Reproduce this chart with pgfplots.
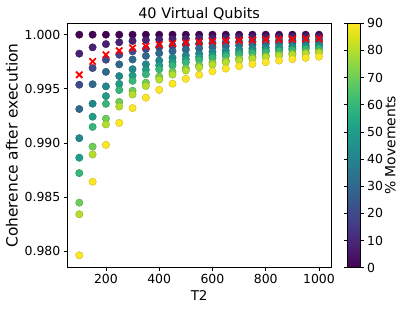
\documentclass[border=0pt]{standalone}
\usepackage{pgfplots}
\usepackage{pgfplotstable}
\pgfplotsset{compat=1.18}
\usepackage{fontspec}
\setmainfont{DejaVu Sans}

\pgfplotstableread{
T2   c1  c2      c3      c4      c5      c6      c7      c8      c9      c10     red
100  1.0 0.99825 0.99538 0.99314 0.99045 0.98865 0.98723 0.98450 0.98343 0.97965 0.99630
150  1.0 0.99883 0.99692 0.99543 0.99363 0.99243 0.99149 0.98967 0.98895 0.98643 0.99753
200  1.0 0.99913 0.99769 0.99657 0.99523 0.99433 0.99362 0.99225 0.99172 0.98983 0.99815
250  1.0 0.99930 0.99815 0.99726 0.99618 0.99546 0.99489 0.99380 0.99337 0.99186 0.99852
300  1.0 0.99942 0.99846 0.99771 0.99682 0.99622 0.99574 0.99483 0.99448 0.99322 0.99877
350  1.0 0.99950 0.99868 0.99804 0.99727 0.99676 0.99635 0.99557 0.99527 0.99419 0.99894
400  1.0 0.99956 0.99885 0.99829 0.99761 0.99716 0.99681 0.99613 0.99586 0.99491 0.99908
450  1.0 0.99961 0.99897 0.99848 0.99788 0.99748 0.99716 0.99656 0.99632 0.99548 0.99918
500  1.0 0.99965 0.99908 0.99863 0.99809 0.99773 0.99745 0.99690 0.99669 0.99593 0.99926
550  1.0 0.99968 0.99916 0.99875 0.99826 0.99794 0.99768 0.99718 0.99699 0.99630 0.99933
600  1.0 0.99971 0.99923 0.99886 0.99841 0.99811 0.99787 0.99742 0.99724 0.99661 0.99938
650  1.0 0.99973 0.99929 0.99894 0.99853 0.99825 0.99804 0.99762 0.99745 0.99687 0.99943
700  1.0 0.99975 0.99934 0.99902 0.99864 0.99838 0.99818 0.99779 0.99763 0.99709 0.99947
750  1.0 0.99977 0.99938 0.99909 0.99873 0.99849 0.99830 0.99793 0.99779 0.99729 0.99951
800  1.0 0.99978 0.99942 0.99914 0.99881 0.99858 0.99840 0.99806 0.99793 0.99746 0.99954
850  1.0 0.99979 0.99946 0.99919 0.99888 0.99867 0.99850 0.99818 0.99805 0.99761 0.99956
900  1.0 0.99981 0.99949 0.99924 0.99894 0.99874 0.99858 0.99828 0.99816 0.99774 0.99959
950  1.0 0.99982 0.99951 0.99928 0.99900 0.99881 0.99866 0.99837 0.99826 0.99786 0.99961
1000 1.0 0.99982 0.99954 0.99931 0.99904 0.99887 0.99872 0.99845 0.99834 0.99797 0.99963
}\data

\begin{document}
\begin{tikzpicture}
\path[use as bounding box] (-67.3bp,-42.3bp) rectangle (339.7bp,267.7bp);
\begin{axis}[
  scale only axis,
  width=263.7bp, height=244.4bp,
  at={(0,0)}, anchor=south west,
  xmin=55, xmax=1045,
  ymin=0.97850, ymax=1.00105,
  xtick={200,400,600,800,1000},
  ytick={0.980,0.985,0.990,0.995,1.000},
  scaled y ticks=false,
  scaled x ticks=false,
  xticklabel style={/pgf/number format/1000 sep={}},
  yticklabel style={/pgf/number format/.cd, fixed, fixed zerofill, precision=3},
  /pgf/number format/assume math mode=true,
  tick label style={font=\fontsize{12.5}{14}\selectfont},
  tick align=outside,
  major tick length=3.5bp,
  xtick pos=bottom, ytick pos=left,
  axis line style={line width=0.8bp},
  every tick/.style={line width=0.8bp, black},
  title={\fontsize{14.5}{16}\selectfont 40 Virtual Qubits},
  title style={at={(0.5,1)}, anchor=south, yshift=-6.5bp},
  xlabel={T2},
  xlabel style={font=\fontsize{13.5}{15}\selectfont},
  ylabel={Coherence after execution},
  ylabel style={font=\fontsize{15.5}{17}\selectfont},
  colormap/viridis,
  point meta min=0, point meta max=90,
  colorbar,
  colorbar style={
    at={(parent axis.north east)}, anchor=north west, xshift=8bp,
    width=12.7bp,
    ytick={0,10,...,90},
    tick align=outside,
    major tick length=3.5bp,
    /pgf/number format/assume math mode=true,
    yticklabel style={font=\fontsize{12.5}{14}\selectfont},
    ylabel={\% Movements},
    ylabel style={font=\fontsize{14}{16}\selectfont, yshift=5bp},
    axis line style={line width=0.8bp},
  },
]
\addplot[scatter, only marks, mark=*, mark size=3.7bp, point meta=0]  table[x=T2, y=c1]  {\data};
\addplot[scatter, only marks, mark=*, mark size=3.7bp, point meta=8]  table[x=T2, y=c2]  {\data};
\addplot[scatter, only marks, mark=*, mark size=3.7bp, point meta=20] table[x=T2, y=c3]  {\data};
\addplot[scatter, only marks, mark=*, mark size=3.7bp, point meta=30] table[x=T2, y=c4]  {\data};
\addplot[scatter, only marks, mark=*, mark size=3.7bp, point meta=42] table[x=T2, y=c5]  {\data};
\addplot[scatter, only marks, mark=*, mark size=3.7bp, point meta=50] table[x=T2, y=c6]  {\data};
\addplot[scatter, only marks, mark=*, mark size=3.7bp, point meta=60] table[x=T2, y=c7]  {\data};
\addplot[scatter, only marks, mark=*, mark size=3.7bp, point meta=70] table[x=T2, y=c8]  {\data};
\addplot[scatter, only marks, mark=*, mark size=3.7bp, point meta=80] table[x=T2, y=c9]  {\data};
\addplot[scatter, only marks, mark=*, mark size=3.7bp, point meta=90] table[x=T2, y=c10] {\data};
\addplot[only marks, mark=x, mark size=4.5bp, red, line width=1.8bp] table[x=T2, y=red] {\data};
\end{axis}
\end{tikzpicture}
\end{document}
